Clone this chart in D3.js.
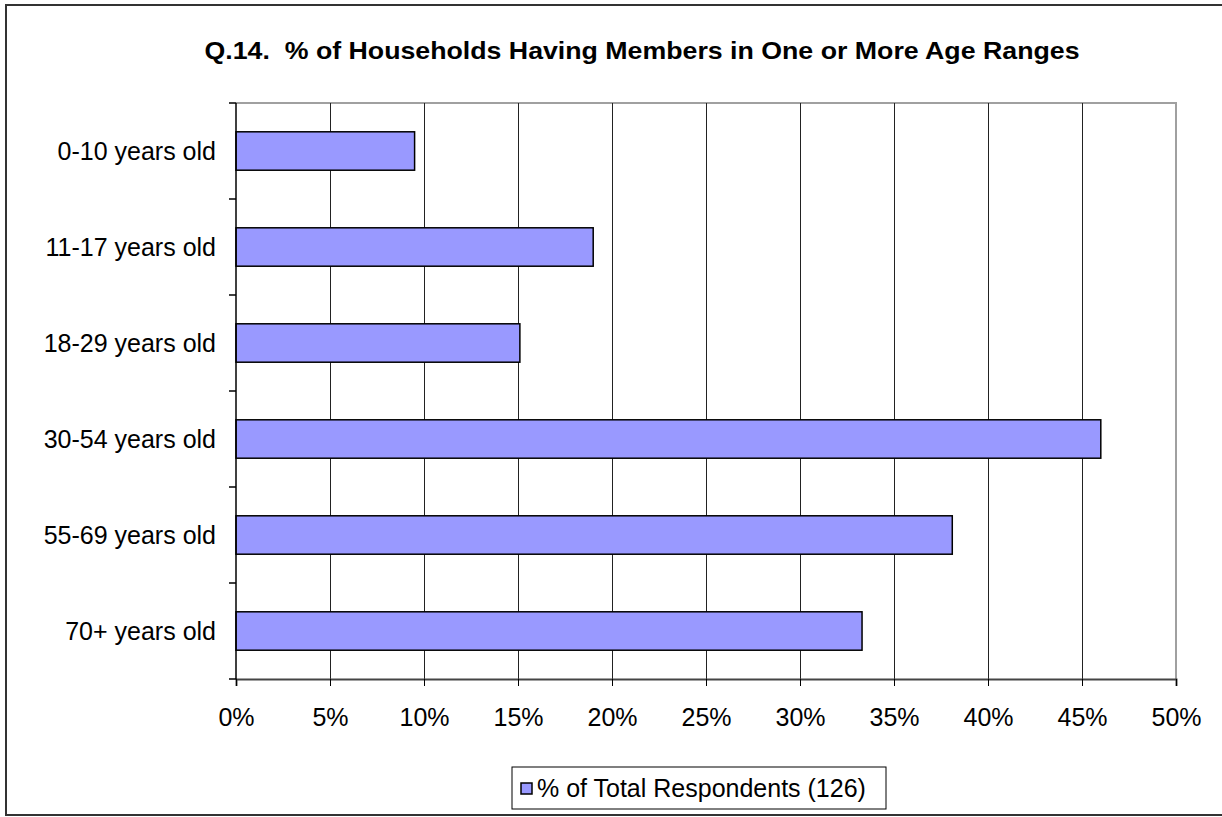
<!DOCTYPE html>
<html>
<head>
<meta charset="utf-8">
<script src="https://cdn.jsdelivr.net/npm/d3@7"></script>
<style>
  body { margin: 0; background: #fff; }
  svg { display: block; font-family: 'Liberation Sans', Arial, sans-serif; }
</style>
</head>
<body>
<svg class="svgChart"></svg>
<script>
// chart data
const categories = ['0-10 years old', '11-17 years old', '18-29 years old',
  '30-54 years old', '55-69 years old', '70+ years old'];
const values = [9.5, 19.0, 15.1, 46.0, 38.1, 33.3];
const xTicks = [0, 5, 10, 15, 20, 25, 30, 35, 40, 45, 50];
const seriesName = '% of Total Respondents (126)';
const chartTitle = 'Q.14.  % of Households Having Members in One or More Age Ranges';

const W = 1222;
const H = 817;
const margin = { top: 103, right: 46, bottom: 138, left: 236 };
const width = W - margin.left - margin.right;
const height = H - margin.top - margin.bottom;

const svg = d3.select('.svgChart')
  .attr('width', W)
  .attr('height', H);

// outer frame
svg.append('rect')
  .attr('x', 6)
  .attr('y', 5)
  .attr('width', 1240)
  .attr('height', 810)
  .attr('fill', '#fff')
  .attr('stroke', '#333')
  .attr('stroke-width', 2);

// title (condensed look like the original)
svg.append('text')
  .attr('x', 642)
  .attr('y', 59)
  .attr('text-anchor', 'middle')
  .attr('font-weight', 'bold')
  .attr('font-size', 24)
  .attr('textLength', 875)
  .attr('lengthAdjust', 'spacingAndGlyphs')
  .style('white-space', 'pre')
  .text(chartTitle);

const g = svg.append('g')
  .attr('transform', `translate(${margin.left}, ${margin.top})`);

const xScale = d3.scaleLinear()
  .domain([0, 50])
  .range([0, width]);

const yScale = d3.scaleBand()
  .domain(categories)
  .range([0, height])
  .paddingInner(0.6)
  .paddingOuter(0.3);

// plot area top / right border
g.append('path')
  .attr('d', `M0,0H${width}V${height}`)
  .attr('fill', 'none')
  .attr('stroke', '#a0a0a0')
  .attr('stroke-width', 2);

// vertical gridlines
g.append('g')
  .selectAll('line')
  .data(xTicks.slice(1, -1))
  .enter()
  .append('line')
    .attr('x1', d => xScale(d) + 0.5)
    .attr('x2', d => xScale(d) + 0.5)
    .attr('y1', 0)
    .attr('y2', height)
    .attr('stroke', '#222')
    .attr('stroke-width', 1);

// bars
g.append('g')
  .selectAll('rect')
  .data(values)
  .enter()
  .append('rect')
    .attr('x', 0)
    .attr('y', (d, i) => yScale(categories[i]))
    .attr('width', d => xScale(d))
    .attr('height', yScale.bandwidth())
    .attr('fill', '#9999ff')
    .attr('stroke', '#000')
    .attr('stroke-width', 1.5);

// x axis
const xAxis = d3.axisBottom(xScale)
  .tickValues(xTicks)
  .tickSize(7)
  .tickPadding(22)
  .tickFormat(d => d + '%');

g.append('g')
  .attr('class', 'xAxis')
  .attr('transform', `translate(0, ${height})`)
  .call(xAxis)
  .call(a => a.select('.domain').attr('stroke', '#444').attr('stroke-width', 2))
  .call(a => a.selectAll('.tick line').attr('stroke', '#000'))
  .selectAll('text')
    .attr('font-size', 25)
    .attr('fill', '#000');

// y axis: ticks sit between categories
const yEdges = categories.map(c => yScale(c) - yScale.step() * 0.3).concat([height]);

g.append('line')
  .attr('x1', 0)
  .attr('x2', 0)
  .attr('y1', 0)
  .attr('y2', height)
  .attr('stroke', '#000')
  .attr('stroke-width', 1.5);

g.append('g')
  .selectAll('line')
  .data(yEdges)
  .enter()
  .append('line')
    .attr('x1', -7)
    .attr('x2', 0)
    .attr('y1', d => d)
    .attr('y2', d => d)
    .attr('stroke', '#000')
    .attr('stroke-width', 1.5);

g.append('g')
  .selectAll('text')
  .data(categories)
  .enter()
  .append('text')
    .attr('x', -20)
    .attr('y', d => yScale(d) + yScale.bandwidth() / 2)
    .attr('dy', '0.35em')
    .attr('text-anchor', 'end')
    .attr('font-size', 25)
    .text(d => d);

// legend
const legend = svg.append('g')
  .attr('class', 'legend')
  .attr('transform', 'translate(512, 767)');

legend.append('rect')
  .attr('width', 374)
  .attr('height', 42)
  .attr('fill', '#fff')
  .attr('stroke', '#000')
  .attr('stroke-width', 1);

legend.append('rect')
  .attr('x', 9)
  .attr('y', 16)
  .attr('width', 11)
  .attr('height', 11)
  .attr('fill', '#9999ff')
  .attr('stroke', '#000')
  .attr('stroke-width', 1.5);

legend.append('text')
  .attr('x', 25)
  .attr('y', 21)
  .attr('dy', '0.35em')
  .attr('font-size', 25)
  .text(seriesName);
</script>
</body>
</html>
